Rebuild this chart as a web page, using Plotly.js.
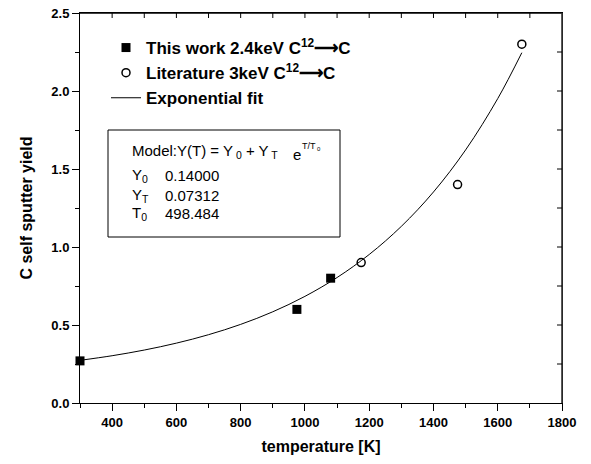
<!DOCTYPE html>
<html>
<head>
<meta charset="utf-8">
<script src="https://cdn.plot.ly/plotly-3.0.1.min.js"></script>
<style>html,body{margin:0;padding:0;background:#fff;}#chart{width:591px;height:464px;}</style>
</head>
<body>
<div id="chart"></div>
<script>
// Data
const thisWorkT = [300, 975, 1080];
const thisWorkY = [0.27, 0.60, 0.80];
const literatureT = [1175, 1475, 1675];
const literatureY = [0.90, 1.40, 2.30];
const fitT = [300, 400, 500, 600, 700, 800, 900, 1000, 1100, 1200, 1300, 1400, 1500, 1600, 1675];
const fitY = [0.2735, 0.3031, 0.3394, 0.3837, 0.4378, 0.5039, 0.5848, 0.6836, 0.8043, 0.9519, 1.1323, 1.3527, 1.6221, 1.9513, 2.2455];
const seriesNames = ["This work 2.4keV C<sup>12</sup>⟶C", "Literature 3keV C<sup>12</sup>⟶C", "Exponential fit"];
const modelRows = [["Y<sub>0</sub>", "0.14000"], ["Y<sub>T</sub>", "0.07312"], ["T<sub>0</sub>", "498.484"]];
const xRange = [300, 1800];
const yRange = [0, 2.5];

const FONT = "Liberation Sans, Arial, Helvetica, sans-serif";
const W = 591, H = 464, L = 80, R = 29, T = 13, B = 61;
const pw = W - L - R, ph = H - T - B;
const px = v => (v - L) / pw;
const py = v => (H - B - v) / ph;

const traces = [
  {x: thisWorkT, y: thisWorkY, name: seriesNames[0], mode: "markers", type: "scatter",
   marker: {symbol: "square", size: 9, color: "#000"}, cliponaxis: false},
  {x: literatureT, y: literatureY, name: seriesNames[1], mode: "markers", type: "scatter",
   marker: {symbol: "circle-open", size: 8, color: "#000", line: {width: 1.5, color: "#000"}}},
  {x: fitT, y: fitY, name: seriesNames[2], mode: "lines", type: "scatter",
   line: {color: "#000", width: 1, shape: "spline"}}
];

const boxFont = {family: FONT, size: 15, color: "#000"};
const annotations = [
  {xref: "paper", yref: "paper", x: px(130), y: py(152), xanchor: "left", yanchor: "middle", showarrow: false,
   text: "Model:Y(T) = Y<sub> 0</sub> + Y<sub> T</sub>", font: boxFont},
  {xref: "paper", yref: "paper", x: px(291), y: py(154), xanchor: "left", yanchor: "middle", showarrow: false,
   text: "e", font: boxFont},
  {xref: "paper", yref: "paper", x: px(300), y: py(146), xanchor: "left", yanchor: "middle", showarrow: false,
   text: "T/T", font: {family: FONT, size: 9, color: "#000"}},
  {xref: "paper", yref: "paper", x: px(315), y: py(149), xanchor: "left", yanchor: "middle", showarrow: false,
   text: "0", font: {family: FONT, size: 6, color: "#000"}}
];
const rowY = [175, 195, 214];
modelRows.forEach((r, i) => {
  annotations.push({xref: "paper", yref: "paper", x: px(130), y: py(rowY[i]), xanchor: "left", yanchor: "middle",
    showarrow: false, text: r[0], font: boxFont});
  annotations.push({xref: "paper", yref: "paper", x: px(163), y: py(rowY[i]), xanchor: "left", yanchor: "middle",
    showarrow: false, text: r[1], font: boxFont});
});

// top and right frame edges (slightly heavier, as in the reference), model box, inward ticks on top/right
const shapes = [
  {type: "line", xref: "paper", yref: "paper", x0: 0, x1: 1, y0: 1, y1: 1, line: {color: "#000", width: 1.6}},
  {type: "line", xref: "paper", yref: "paper", x0: 1, x1: 1, y0: 0, y1: 1, line: {color: "#333", width: 1.6}},
  {type: "rect", xref: "paper", yref: "paper", x0: px(108), x1: px(340), y0: py(237), y1: py(130),
   line: {color: "#000", width: 1}, fillcolor: "rgba(0,0,0,0)"}
];
for (let v = xRange[0] + 100; v < xRange[1]; v += 100) {
  shapes.push({type: "line", xref: "x", yref: "paper", x0: v, x1: v, y0: 1, y1: 1 - 5 / ph, line: {color: "#000", width: 1}});
}
for (let v = yRange[0] + 0.25; v < yRange[1] - 1e-9; v += 0.25) {
  shapes.push({type: "line", xref: "paper", yref: "y", x0: 1, x1: 1 - 5 / pw, y0: v, y1: v, line: {color: "#000", width: 1}});
}

const layout = {
  width: W, height: H,
  margin: {l: L, r: R, t: T, b: B, pad: 0},
  paper_bgcolor: "#fff", plot_bgcolor: "rgba(0,0,0,0)",
  font: {family: FONT, color: "#000"},
  showlegend: true,
  legend: {x: px(106), y: py(30), xanchor: "left", yanchor: "top", bgcolor: "rgba(0,0,0,0)",
    font: {family: FONT, size: 17, weight: "bold", color: "#000"}, tracegroupgap: 0, itemwidth: 30},
  xaxis: {range: xRange, tick0: 0, dtick: 200, ticks: "outside", ticklen: 7, tickwidth: 1, tickcolor: "#000",
    showline: true, mirror: true, linecolor: "#000", linewidth: 1, showgrid: false, zeroline: false,
    minor: {dtick: 100, tick0: 0, ticks: "outside", ticklen: 4, tickcolor: "#000", showgrid: false},
    tickfont: {family: FONT, size: 13, weight: "bold", color: "#000"},
    title: {text: "temperature [K]", font: {family: FONT, size: 16, weight: "bold", color: "#000"}, standoff: 12}},
  yaxis: {range: yRange, tick0: 0, dtick: 0.5, tickformat: ".1f", ticks: "outside", ticklen: 7, tickwidth: 1, tickcolor: "#000",
    showline: true, mirror: true, linecolor: "#000", linewidth: 1, showgrid: false, zeroline: false,
    minor: {dtick: 0.25, tick0: 0, ticks: "outside", ticklen: 4, tickcolor: "#000", showgrid: false},
    tickfont: {family: FONT, size: 13, weight: "bold", color: "#000"},
    title: {text: "C self sputter yield", font: {family: FONT, size: 16, weight: "bold", color: "#000"}, standoff: 14}},
  shapes: shapes,
  annotations: annotations
};

Plotly.newPlot("chart", traces, layout, {displayModeBar: false, staticPlot: true});
</script>
</body>
</html>
